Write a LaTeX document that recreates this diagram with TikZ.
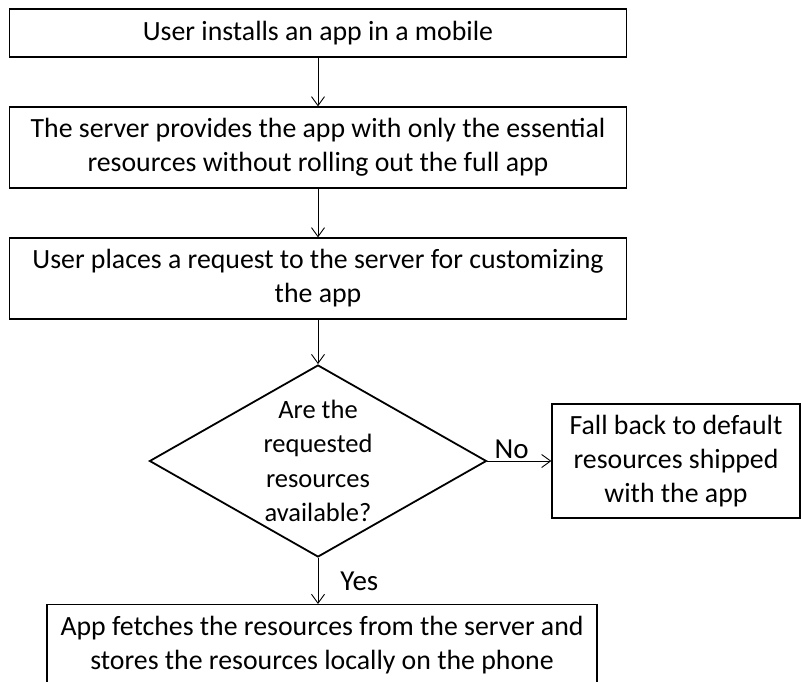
\documentclass[tikz,border=0pt]{standalone}
\usepackage{fontspec}
\setmainfont{Carlito}
\usetikzlibrary{shapes.geometric, arrows.meta}

\tikzset{
    stepbox/.style={draw, line width=1.2pt, align=center, inner sep=0pt},
    decision/.style={diamond, draw, line width=1.8pt, aspect=1.75, inner sep=-8pt,
        minimum width=337pt, minimum height=192pt, align=center,
        font=\fontsize{26.5}{34.5}\selectfont},
    flow/.style={-{Straight Barb[length=9pt, width=13pt]}, line width=0.9pt},
    answer/.style={font=\fontsize{29}{34}\selectfont, inner sep=2pt},
}

\begin{document}
\begin{tikzpicture}[x=1pt, y=-1pt, font=\fontsize{27.8}{34}\selectfont]
    \useasboundingbox (0,0) rectangle (801,682);

    \def \mx {318};

    \node[stepbox, minimum width=617pt, minimum height=48pt] (install) at (\mx, 33)
        {User installs an app in a mobile};
    \node[stepbox, minimum width=617pt, minimum height=81pt] (provide) at (\mx, 147.5)
        {The server provides the app with only the essential\\resources without rolling out the full app};
    \node[stepbox, minimum width=617pt, minimum height=81pt] (request) at (\mx, 278.5)
        {User places a request to the server for customizing\\the app};

    \node[decision] (check) at (\mx, 461)
        {Are the\\requested\\resources\\available?};

    \node[stepbox, minimum width=248pt, minimum height=114pt] (fallback) at (676, 461)
        {Fall back to default\\resources shipped\\with the app};
    \node[stepbox, minimum width=550pt, minimum height=80pt, anchor=north] (fetch) at (322, 604)
        {App fetches the resources from the server and\\stores the resources locally on the phone};

    % connectors
    \draw[flow] (install) -- (provide);
    \draw[flow] (provide) -- (request);
    \draw[flow] (request) -- (check);
    \draw[flow] (check.east) -- node[answer, above, pos=0.38] {No} (fallback.west);
    \draw[flow] (check.south) -- node[answer, right, pos=0.5, xshift=20pt] {Yes} (check.south |- fetch.north);
\end{tikzpicture}
\end{document}
